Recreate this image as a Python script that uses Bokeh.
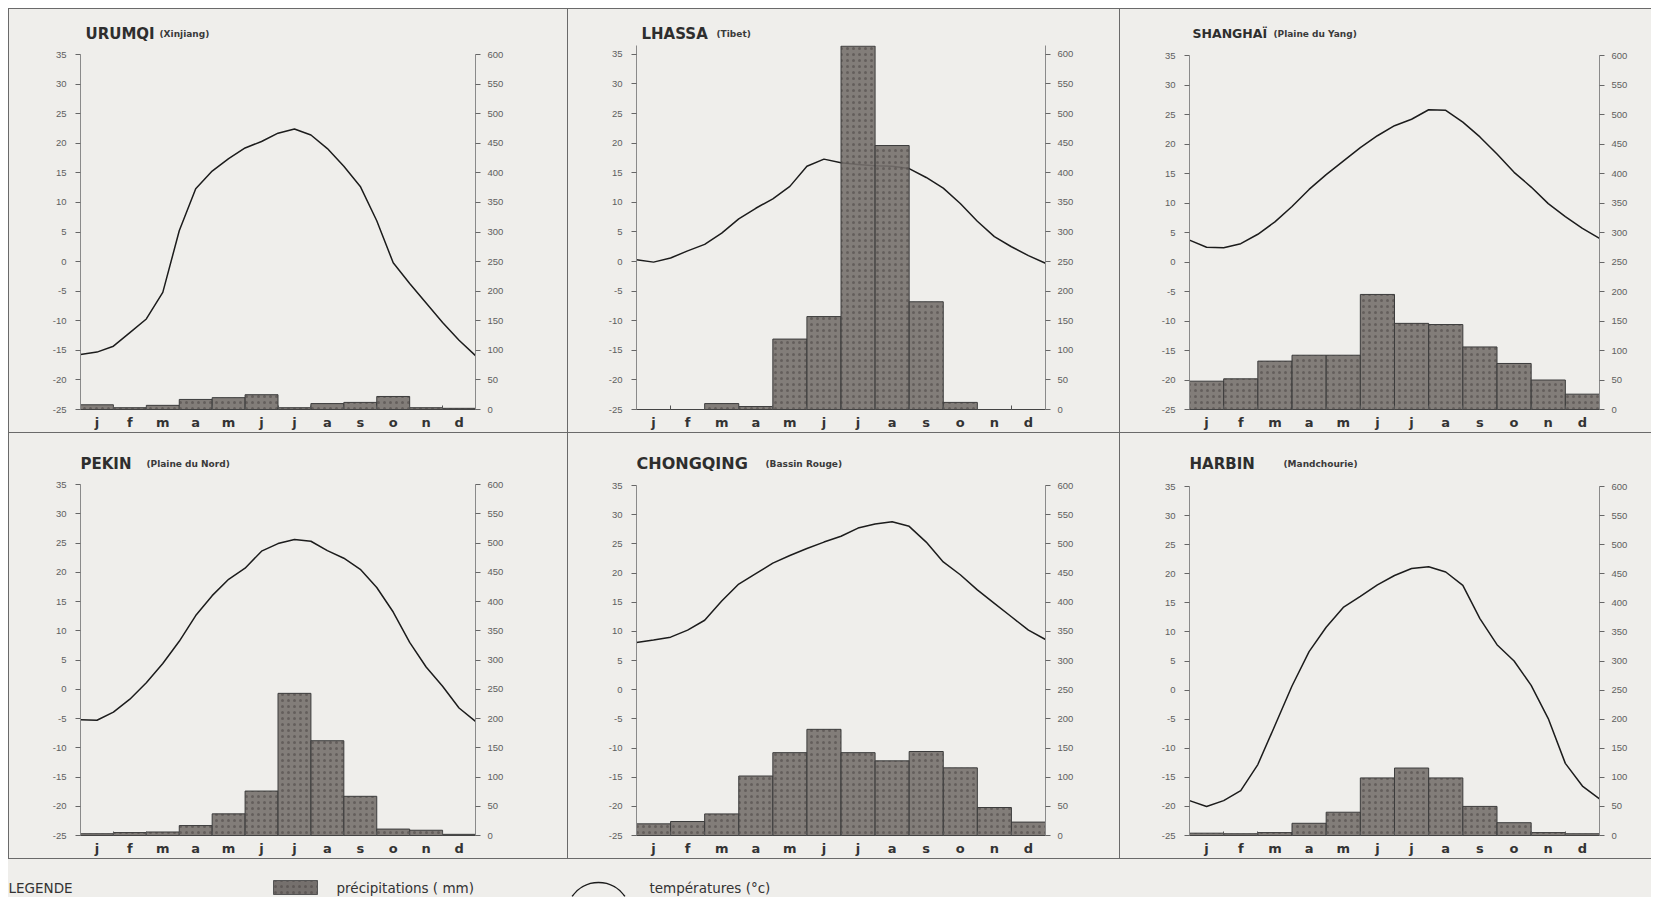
from bokeh.plotting import figure
from bokeh.models import Range1d, LinearAxis, FixedTicker, Div, ColumnDataSource
from bokeh.layouts import row, column
from bokeh.embed import file_html
from bokeh.resources import INLINE
from bokeh.core.properties import value

# ---------------- data ----------------
MONTHS = ["j", "f", "m", "a", "m", "j", "j", "a", "s", "o", "n", "d"]
MONTH_INDEX = list(range(12))
# temperature curve read every half month, from the start of January to the end of December
CURVE_X = [0, 0.5, 1, 1.5, 2, 2.5, 3, 3.5, 4, 4.5, 5, 5.5, 6,
           6.5, 7, 7.5, 8, 8.5, 9, 9.5, 10, 10.5, 11, 11.5, 12]
TEMP_TICKS = [-25, -20, -15, -10, -5, 0, 5, 10, 15, 20, 25, 30, 35]
PRECIP_TICKS = [0, 50, 100, 150, 200, 250, 300, 350, 400, 450, 500, 550, 600]

urumqi_precip = [8, 3, 7, 17, 20, 25, 3, 10, 12, 22, 3, 2]
urumqi_temp = [-15.7, -15.3, -14.3, -12.0, -9.7, -5.2, 5.2, 12.3, 15.3, 17.4, 19.2, 20.3, 21.7,
               22.4, 21.4, 19.1, 16.1, 12.7, 6.9, -0.2, -3.7, -7.0, -10.3, -13.3, -15.9]

lhassa_precip = [0, 0, 10, 5, 119, 157, 614, 446, 182, 12, 0, 0]
lhassa_temp = [0.3, -0.1, 0.6, 1.8, 2.9, 4.8, 7.2, 9.0, 10.6, 12.7, 16.1, 17.3, 16.7,
               16.4, 16.2, 16.1, 15.7, 14.2, 12.4, 9.8, 6.8, 4.2, 2.5, 1.0, -0.3]

shanghai_precip = [48, 52, 82, 92, 92, 195, 146, 144, 106, 78, 50, 26]
shanghai_temp = [3.7, 2.5, 2.4, 3.1, 4.7, 6.8, 9.4, 12.3, 14.8, 17.1, 19.4, 21.4, 23.1,
                 24.2, 25.8, 25.7, 23.7, 21.2, 18.3, 15.2, 12.7, 9.9, 7.7, 5.7, 4.0]

pekin_precip = [3, 5, 6, 17, 37, 76, 243, 162, 67, 11, 9, 2]
pekin_temp = [-5.2, -5.3, -3.9, -1.7, 1.1, 4.4, 8.2, 12.6, 16.0, 18.8, 20.7, 23.6, 24.9,
              25.6, 25.3, 23.7, 22.4, 20.5, 17.4, 13.2, 8.0, 3.8, 0.5, -3.2, -5.5]

chongqing_precip = [20, 24, 37, 102, 142, 182, 142, 128, 144, 116, 48, 23]
chongqing_temp = [8.1, 8.5, 9.0, 10.2, 11.9, 15.2, 18.1, 19.9, 21.7, 23.0, 24.2, 25.3, 26.3,
                  27.7, 28.4, 28.8, 28.0, 25.3, 21.9, 19.7, 17.1, 14.8, 12.5, 10.2, 8.6]

harbin_precip = [4, 3, 5, 21, 40, 99, 116, 99, 50, 22, 5, 3]
harbin_temp = [-19.0, -20.0, -19.0, -17.3, -12.8, -6.1, 0.7, 6.6, 10.8, 14.2, 16.1, 18.1, 19.7,
               20.9, 21.2, 20.3, 18.0, 12.3, 7.8, 5.0, 0.8, -4.9, -12.6, -16.5, -18.7]

# ---------------- style / layout ----------------
PAPER = "#efeeeb"
RULE = "#6a6a6a"
BAR_FILL = "#75706d"
FONT = "DejaVu Sans"

COLS = [  # width, border_left, border_right
    (558, 71, 92),
    (551, 68, 74),
    (531, 69, 52),
]
TOP_H, BOT_H = 423, 425          # full row heights
TOP_STRIP, BOT_STRIP = 36, 42    # title strip heights
TITLE_Y = 12                     # title centre above strip bottom


def title_strip(col, h, city, region, dx, sub_dx, size):
    width, bl, br = COLS[col]
    fw = width - bl - br
    s = figure(width=width, height=h, x_range=Range1d(0, fw), y_range=Range1d(0, h),
               output_backend="svg", toolbar_location=None, min_border_left=bl,
               min_border_right=br, min_border_top=0, min_border_bottom=0,
               x_axis_location=None, y_axis_location=None, outline_line_color=None,
               background_fill_color=PAPER, border_fill_color=PAPER)
    s.grid.visible = False
    s.text(x=[dx], y=[TITLE_Y], text=[city], text_font=value(FONT),
           text_font_size=value(size), text_font_style="bold", text_color="#2e2e2e",
           text_baseline="middle")
    s.text(x=[dx + sub_dx], y=[TITLE_Y], text=[region], text_font=value(FONT),
           text_font_size=value("9px"), text_font_style="bold", text_color="#3a3a3a",
           text_baseline="middle")
    return s


def panel(temps, precip, col, h, b_top, b_bot, tmax=35.0):
    width, bl, br = COLS[col]
    p = figure(width=width, height=h, x_range=Range1d(0, 12), y_range=Range1d(-25, tmax),
               output_backend="svg", toolbar_location=None,
               min_border_left=bl, min_border_right=br, min_border_top=b_top,
               min_border_bottom=b_bot, background_fill_color=PAPER, border_fill_color=PAPER,
               outline_line_color=None)
    p.grid.visible = False
    p.extra_y_ranges = {"precip": Range1d(0, (tmax + 25) * 10)}

    # bottom axis: months
    xa = p.xaxis[0]
    xa.ticker = FixedTicker(ticks=[i + 0.5 for i in MONTH_INDEX], minor_ticks=list(range(13)))
    xa.major_label_overrides = {i + 0.5: m for i, m in enumerate(MONTHS)}
    xa.major_tick_line_color = None
    xa.major_tick_in = 0
    xa.major_tick_out = 0
    xa.minor_tick_in = 4
    xa.minor_tick_out = 0
    xa.minor_tick_line_color = "#555555"
    xa.axis_line_color = "#444444"
    xa.axis_line_width = 1.2
    xa.major_label_standoff = 5
    xa.major_label_text_font = FONT
    xa.major_label_text_font_size = "13px"
    xa.major_label_text_font_style = "bold"
    xa.major_label_text_color = "#333333"

    # left axis: temperatures
    ya = p.yaxis[0]
    ya.ticker = FixedTicker(ticks=TEMP_TICKS)
    ya.major_label_overrides = {t: str(t) for t in TEMP_TICKS}
    ya.axis_line_color = "#8a8a8a"
    ya.major_tick_line_color = "#666666"
    ya.major_tick_in = 0
    ya.major_tick_out = 5
    ya.major_label_standoff = 9
    ya.major_label_text_font = "Liberation Sans"
    ya.major_label_text_font_size = "9.5px"
    ya.major_label_text_color = "#5e5e5e"

    # right axis: precipitations
    ra = LinearAxis(y_range_name="precip", ticker=FixedTicker(ticks=PRECIP_TICKS))
    ra.major_label_overrides = {t: str(t) for t in PRECIP_TICKS}
    ra.axis_line_color = "#8a8a8a"
    ra.major_tick_line_color = "#666666"
    ra.major_tick_in = 0
    ra.major_tick_out = 5
    ra.major_label_standoff = 7
    ra.major_label_text_font = "Liberation Sans"
    ra.major_label_text_font_size = "9.5px"
    ra.major_label_text_color = "#5e5e5e"
    p.add_layout(ra, "right")

    # temperature curve drawn first: where it crosses a bar it shows only faintly through it
    p.line(CURVE_X, temps, line_color="#1c1c1c", line_width=1.5, line_join="round")
    src = ColumnDataSource(dict(left=MONTH_INDEX, right=[i + 1 for i in MONTH_INDEX],
                                bottom=[0] * 12, top=precip))
    p.quad(left="left", right="right", bottom="bottom", top="top", source=src,
           y_range_name="precip", fill_color=BAR_FILL, fill_alpha=0.9, line_color="#3c3c3c",
           line_width=1, hatch_pattern="dot", hatch_color="#4a4644", hatch_scale=6,
           hatch_weight=1.3, hatch_alpha=0.55)
    return p


def cell(col, strip_h, row_h, city, region, dx, sub_dx, temps, precip, b_top, b_bot,
         tmax=35.0, size="15px"):
    s = title_strip(col, strip_h, city, region, dx, sub_dx, size)
    p = panel(temps, precip, col, row_h - strip_h, b_top, b_bot, tmax)
    return column(s, p)


c1 = cell(0, TOP_STRIP, TOP_H, "URUMQI", "(Xinjiang)", 5, 74, urumqi_temp, urumqi_precip, 9, 22)
c2 = cell(1, TOP_STRIP, TOP_H, "LHASSA", "(Tibet)", 5, 75, lhassa_temp, lhassa_precip, 0, 22,
          tmax=36.5)
c3 = cell(2, TOP_STRIP, TOP_H, "SHANGHAÏ", "(Plaine du Yang)", 3, 81, shanghai_temp,
          shanghai_precip, 10, 21, size="12.5px")
c4 = cell(0, BOT_STRIP, BOT_H, "PEKIN", "(Plaine du Nord)", 0, 66, pekin_temp, pekin_precip,
          9, 22)
c5 = cell(1, BOT_STRIP, BOT_H, "CHONGQING", "(Bassin Rouge)", 0, 129, chongqing_temp,
          chongqing_precip, 10, 22, size="16px")
c6 = cell(2, BOT_STRIP, BOT_H, "HARBIN", "(Mandchourie)", 0, 94, harbin_temp, harbin_precip,
          11, 21)


def vline(h):
    return Div(text="", width=1, height=h, margin=0, styles={"background-color": RULE})


def hline(w):
    return Div(text="", width=w, height=1, margin=0, styles={"background-color": RULE})


TOTAL_W = 1 + sum(c[0] for c in COLS) + 2

# legend strip
LEG_W, LEG_H = TOTAL_W, 38
leg = figure(width=LEG_W, height=LEG_H, x_range=Range1d(0, LEG_W), y_range=Range1d(0, LEG_H),
             output_backend="svg", toolbar_location=None, min_border=0,
             x_axis_location=None, y_axis_location=None, outline_line_color=None,
             background_fill_color=PAPER, border_fill_color=PAPER)
leg.grid.visible = False
leg.text(x=[0, 328, 641], y=[10, 10, 10],
         text=["LEGENDE", "précipitations  ( mm)", "températures  (°c)"],
         text_font=value(FONT), text_font_size=value("13.5px"), text_color="#333333",
         text_baseline="middle")
leg.quad(left=[265], right=[309], bottom=[3], top=[17], fill_color=BAR_FILL,
         line_color="#555555", hatch_pattern="dot", hatch_color="#4a4644", hatch_scale=6,
         hatch_weight=1.3, hatch_alpha=0.55)
leg.arc(x=[590], y=[-17], radius=32, start_angle=0.6, end_angle=2.54, line_color="#1c1c1c",
        line_width=1.5)

top_row = row(vline(TOP_H), c1, vline(TOP_H), c2, vline(TOP_H), c3)
bot_row = row(vline(BOT_H), c4, vline(BOT_H), c5, vline(BOT_H), c6)
layout = column(hline(TOTAL_W), top_row, hline(TOTAL_W), bot_row, hline(TOTAL_W), leg,
                margin=(8, 0, 0, 8), styles={"background-color": PAPER})

open("out.html", "w").write(file_html(layout, INLINE, title="Climats de Chine"))
